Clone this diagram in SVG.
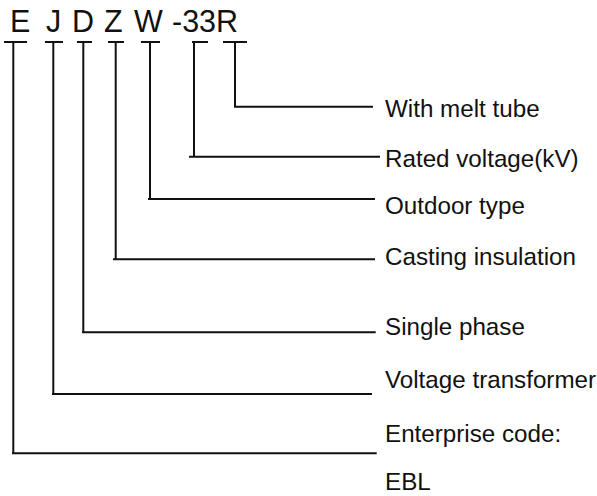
<svg xmlns="http://www.w3.org/2000/svg" width="597" height="496" viewBox="0 0 597 496">
<style>
.code{font-family:"Liberation Sans",Arial,sans-serif;font-size:30.5px;fill:#111}
.lbl{font-family:"Liberation Sans",Arial,sans-serif;font-size:24.2px;fill:#111}
.ln{stroke:#111;stroke-width:2;fill:none}
</style>
<rect width="597" height="496" fill="#fff"/>
<g id="code">
<text class="code" x="10" y="32">E</text>
<text class="code" x="46" y="32">J</text>
<text class="code" x="72" y="32">D</text>
<text class="code" x="104" y="32">Z</text>
<text class="code" x="134" y="32">W</text>
<text class="code" x="172" y="32">-33R</text>
</g>
<g id="connectors">
<path class="ln" d="M223 42H247M235 42V106.7H373"/>
<path class="ln" d="M192 42H208M194 42V156.7H189M189 156.7H380"/>
<path class="ln" d="M141 42H160M150 42V199H148M148 199H375"/>
<path class="ln" d="M108 42H124M115.7 42V259.3H113M113 259.3H375"/>
<path class="ln" d="M77 42H92M83.3 42V332.3H82M82 332.3H375.7"/>
<path class="ln" d="M45 42H63M53.3 42V394H52M52 394H372"/>
<path class="ln" d="M4 42H27M13.3 42V453.3H12M12 453.3H376.7"/>
</g>
<g id="n-melt"><text class="lbl" x="385" y="117">With melt tube</text></g>
<g id="n-rated"><text class="lbl" x="385" y="167">Rated voltage(kV)</text></g>
<g id="n-outdoor"><text class="lbl" x="385" y="214">Outdoor type</text></g>
<g id="n-casting"><text class="lbl" x="385" y="265">Casting insulation</text></g>
<g id="n-single"><text class="lbl" x="385" y="335">Single phase</text></g>
<g id="n-vt"><text class="lbl" x="385" y="388">Voltage transformer</text></g>
<g id="n-ent"><text class="lbl" x="385" y="442">Enterprise code:</text><text class="lbl" x="385" y="490">EBL</text></g>
</svg>
